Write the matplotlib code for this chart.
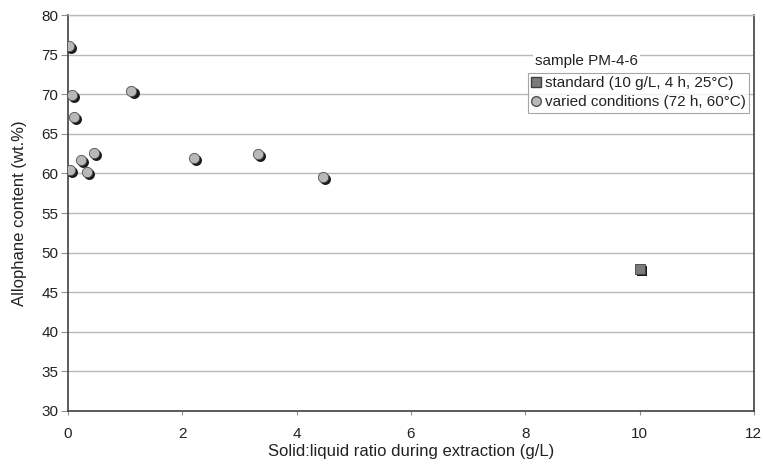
import matplotlib.pyplot as plt
import matplotlib.transforms as mtransforms
from matplotlib.lines import Line2D

plt.rcParams['font.family'] = ['Liberation Sans', 'DejaVu Sans']

# data
ratio_varied = [0.02, 0.07, 0.11, 1.11, 0.04, 0.23, 0.34, 0.45, 2.21, 3.33, 4.46]
allophane_varied = [76.1, 69.9, 67.1, 70.4, 60.4, 61.7, 60.2, 62.6, 62.0, 62.5, 59.6]
ratio_std = [10.0]
allophane_std = [47.9]

fig = plt.figure(figsize=(7.63, 4.68), dpi=100)
ax = fig.add_axes([0.0891, 0.1224, 0.8989, 0.8449])

# dark drop shadow, shifted right/down by a couple of points
shadow = mtransforms.offset_copy(ax.transData, fig=fig, x=1.5, y=-1.5, units='points')
ax.scatter(ratio_varied, allophane_varied, s=62, marker='o', color='#1a1a1a',
           transform=shadow, zorder=3, linewidths=0)
ax.scatter(ratio_varied, allophane_varied, s=55, marker='o', facecolor='#b8b8b8',
           edgecolor='#505050', linewidths=0.6, zorder=4)
ax.scatter(ratio_std, allophane_std, s=58, marker='s', color='#1a1a1a',
           transform=shadow, zorder=3, linewidths=0)
ax.scatter(ratio_std, allophane_std, s=50, marker='s', facecolor='#7a7a7a',
           edgecolor='#404040', linewidths=0.6, zorder=4)

ax.set_xlim(0, 12)
ax.set_ylim(30, 80)
ax.set_xticks(range(0, 13, 2))
ax.set_yticks(range(30, 81, 5))
ax.yaxis.grid(True, color='#b8b8b8', linewidth=1.0)
ax.set_axisbelow(True)

for side in ['left', 'bottom', 'right']:
    ax.spines[side].set_color('#404040')
    ax.spines[side].set_linewidth(1.2)
ax.spines['top'].set_color('#b8b8b8')
ax.spines['top'].set_linewidth(1.0)

ax.tick_params(axis='both', direction='out', width=0.8, color='#909090',
               labelsize=11, labelcolor='#222222')
ax.tick_params(axis='y', length=5, pad=2)
ax.tick_params(axis='x', length=3, pad=9)
ax.set_xlabel('Solid:liquid ratio during extraction (g/L)', fontsize=12,
              color='#222222', labelpad=2)
ax.set_ylabel('Allophane content (wt.%)', fontsize=12, color='#222222', labelpad=10)

handles = [
    Line2D([], [], linestyle='none', marker='s', markersize=7,
           markerfacecolor='#7a7a7a', markeredgecolor='#404040'),
    Line2D([], [], linestyle='none', marker='o', markersize=7,
           markerfacecolor='#b8b8b8', markeredgecolor='#505050'),
]
leg = ax.legend(handles, ['standard (10 g/L, 4 h, 25\u00b0C)',
                          'varied conditions (72 h, 60\u00b0C)'],
                loc='upper right', bbox_to_anchor=(0.9935, 0.855), fontsize=11,
                frameon=True, fancybox=False, handlelength=0.6, handletextpad=0.25,
                borderpad=0.25, labelspacing=0.3, borderaxespad=0)
leg.get_frame().set_edgecolor('#909090')
leg.get_frame().set_linewidth(0.8)
for t in leg.get_texts():
    t.set_color('#222222')

ax.text(0.681, 0.885, 'sample PM-4-6', transform=ax.transAxes, fontsize=11,
        color='#222222', ha='left', va='center', zorder=5,
        bbox=dict(facecolor='white', edgecolor='none', pad=1.5))

fig.savefig('out.png', dpi=100)
